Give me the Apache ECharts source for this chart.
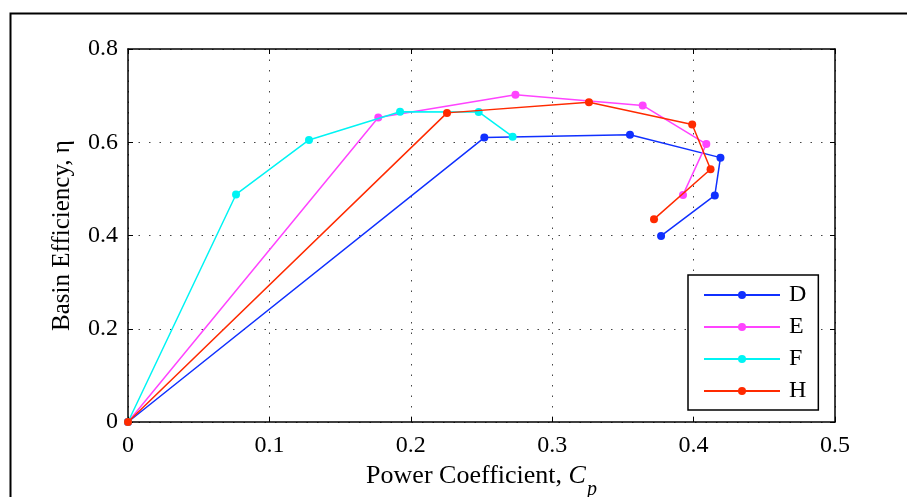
<!DOCTYPE html>
<html><head><meta charset="utf-8">
<script src="https://cdn.jsdelivr.net/npm/echarts@6/dist/echarts.min.js"></script>
<style>html,body{margin:0;padding:0;background:#fff}#c{width:907px;height:497px}</style>
</head><body><div id="c"></div>
<script>
var seriesNames = ['D', 'E', 'F', 'H'];
var seriesColors = ['#1030ff', '#ff44ff', '#00f4f4', '#ff2a00'];
var cpD = [0, 0.252, 0.355, 0.419, 0.415, 0.377];
var etaD = [0, 0.610, 0.616, 0.567, 0.486, 0.399];
var cpE = [0, 0.177, 0.274, 0.364, 0.409, 0.3925];
var etaE = [0, 0.653, 0.702, 0.679, 0.596, 0.487];
var cpF = [0, 0.0764, 0.128, 0.1924, 0.248, 0.272];
var etaF = [0, 0.488, 0.605, 0.6655, 0.665, 0.612];
var cpH = [0, 0.2256, 0.326, 0.399, 0.412, 0.372];
var etaH = [0, 0.663, 0.686, 0.638, 0.542, 0.435];
var xTicks = [0, 0.1, 0.2, 0.3, 0.4, 0.5];
var yTicks = [0, 0.2, 0.4, 0.6, 0.8];

var cps = [cpD, cpE, cpF, cpH];
var etas = [etaD, etaE, etaF, etaH];
var FONT = 'Liberation Serif';

function pairs(xs, ys) { return xs.map(function (x, i) { return [x, ys[i]]; }); }

var series = seriesNames.map(function (n, k) {
  return {
    name: n, type: 'line', data: pairs(cps[k], etas[k]),
    xAxisIndex: 0, yAxisIndex: 0,
    symbol: 'circle', symbolSize: 8, showSymbol: true,
    lineStyle: { color: seriesColors[k], width: 1.5 },
    itemStyle: { color: seriesColors[k] },
    animation: false, z: 3 + k
  };
});

var tickFmt = function (v) { return String(Math.round(v * 10) / 10); };

var chart = echarts.init(document.getElementById('c'), null, { renderer: 'canvas' });
chart.setOption({
  backgroundColor: '#fff',
  animation: false,
  grid: { left: 128, right: 72, top: 49, bottom: 75, show: false, containLabel: false, outerBoundsMode: 'none' },
  xAxis: [{
    type: 'value', min: xTicks[0], max: xTicks[xTicks.length - 1], interval: 0.1, position: 'bottom',
    axisLine: { show: true, onZero: false, lineStyle: { color: '#000', width: 1.5 } },
    axisTick: { show: true, inside: true, length: 5, lineStyle: { color: '#000', width: 1 } },
    axisLabel: { color: '#000', fontFamily: FONT, fontSize: 24, margin: 12, formatter: tickFmt },
    splitLine: { show: true, lineStyle: { color: '#444', width: 1, type: [1.5, 9] } },
    name: '{n|Power Coefficient, }{i|C}{s|p}', nameLocation: 'middle', nameGap: 17,
    nameTextStyle: {
      color: '#000', fontFamily: FONT, fontSize: 26,
      rich: {
        n: { fontFamily: FONT, fontSize: 26, color: '#000' },
        i: { fontFamily: FONT, fontSize: 26, fontStyle: 'italic', color: '#000' },
        s: { fontFamily: FONT, fontSize: 20, fontStyle: 'italic', color: '#000', padding: [28, 0, 0, 1] }
      }
    }
  }, {
    type: 'value', min: 0, max: 0.5, interval: 0.1, position: 'top',
    axisLine: { show: true, onZero: false, lineStyle: { color: '#000', width: 1.5 } },
    axisTick: { show: true, inside: true, length: 5, lineStyle: { color: '#000', width: 1 } },
    axisLabel: { show: false }, splitLine: { show: false }
  }],
  yAxis: [{
    type: 'value', min: yTicks[0], max: yTicks[yTicks.length - 1], interval: 0.2, position: 'left',
    axisLine: { show: true, onZero: false, lineStyle: { color: '#000', width: 1.5 } },
    axisTick: { show: true, inside: true, length: 5, lineStyle: { color: '#000', width: 1 } },
    axisLabel: { color: '#000', fontFamily: FONT, fontSize: 24, margin: 10, formatter: tickFmt },
    splitLine: { show: true, lineStyle: { color: '#444', width: 1, type: [1.5, 9] } },
    name: 'Basin Efficiency, η', nameLocation: 'middle', nameGap: 53, nameRotate: 90,
    nameTextStyle: { color: '#000', fontFamily: FONT, fontSize: 25 }
  }, {
    type: 'value', min: 0, max: 0.8, interval: 0.2, position: 'right',
    axisLine: { show: true, onZero: false, lineStyle: { color: '#000', width: 1.5 } },
    axisTick: { show: true, inside: true, length: 5, lineStyle: { color: '#000', width: 1 } },
    axisLabel: { show: false }, splitLine: { show: false }
  }],
  legend: {
    data: seriesNames, orient: 'vertical', left: 688, top: 275,
    backgroundColor: '#fff', borderColor: '#000', borderWidth: 1.5,
    padding: [8, 12, 7, 15], itemGap: 8, itemWidth: 76, itemHeight: 10,
    textStyle: { color: '#000', fontFamily: FONT, fontSize: 24, lineHeight: 24, padding: [0, 0, 0, 4] },
    z: 20
  },
  graphic: [{
    type: 'rect', left: 8, top: 11, shape: { width: 1000, height: 1000 },
    style: { fill: null, stroke: '#000', lineWidth: 2 }, silent: true, z: 0
  }],
  series: series
});
</script></body></html>
